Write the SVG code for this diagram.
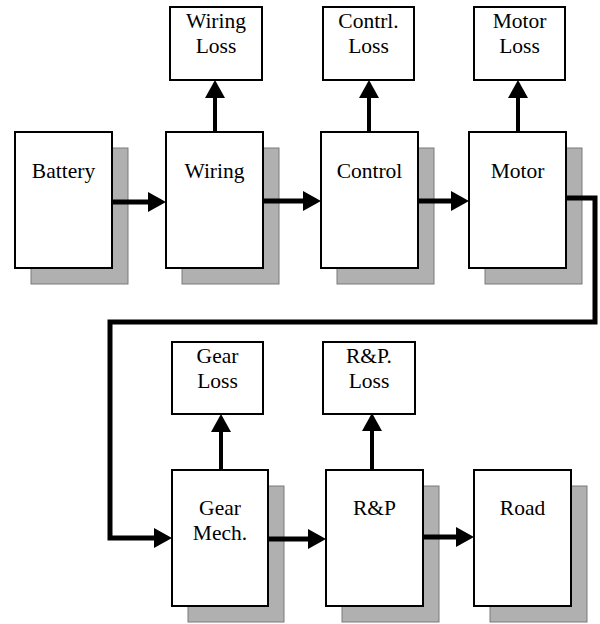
<svg xmlns="http://www.w3.org/2000/svg" width="600" height="624" viewBox="0 0 600 624">
<style>
.bg{fill:#ffffff}
.box{fill:#ffffff;stroke:#000;stroke-width:2}
.sh{fill:#b0b0b0;stroke:#7a7a7a;stroke-width:1}
.t{font-family:"Liberation Serif","Times New Roman",serif;font-size:21.5px;fill:#000;text-anchor:middle}
.c{fill:none;stroke:#000;stroke-width:5;stroke-linejoin:miter}
.v{fill:none;stroke:#000;stroke-width:4}
</style>
<defs>
<marker id="ah" markerUnits="userSpaceOnUse" markerWidth="18" markerHeight="20" refX="0" refY="10" orient="auto" overflow="visible">
<path d="M0,0 L18,10 L0,20 Z" fill="#000"/>
</marker>
</defs>
<rect class="bg" x="0" y="0" width="600" height="624"/>

<g id="battery">
<rect class="sh" x="31" y="148" width="97" height="136"/>
<rect class="box" x="15" y="132" width="97" height="136"/>
<text class="t" x="63.5" y="178">Battery</text>
</g>
<g id="wiring">
<rect class="sh" x="182" y="148" width="97" height="136"/>
<rect class="box" x="166" y="132" width="97" height="136"/>
<text class="t" x="214.5" y="178">Wiring</text>
</g>
<g id="control">
<rect class="sh" x="337" y="148" width="97" height="136"/>
<rect class="box" x="321" y="132" width="97" height="136"/>
<text class="t" x="369.5" y="178">Control</text>
</g>
<g id="motor">
<rect class="sh" x="485" y="148" width="97" height="136"/>
<rect class="box" x="469" y="132" width="97" height="136"/>
<text class="t" x="517.5" y="178">Motor</text>
</g>

<g id="wiring-loss">
<rect class="box" x="170" y="7" width="92" height="73"/>
<text class="t" x="216" y="28">Wiring</text>
<text class="t" x="216" y="53">Loss</text>
</g>
<g id="control-loss">
<rect class="box" x="323" y="7" width="91" height="73"/>
<text class="t" x="368.5" y="28">Contrl.</text>
<text class="t" x="368.5" y="53">Loss</text>
</g>
<g id="motor-loss">
<rect class="box" x="474" y="7" width="91" height="73"/>
<text class="t" x="519.5" y="28">Motor</text>
<text class="t" x="519.5" y="53">Loss</text>
</g>

<g id="gear">
<rect class="sh" x="188" y="486" width="96" height="136"/>
<rect class="box" x="172" y="470" width="96" height="136"/>
<text class="t" x="220" y="515">Gear</text>
<text class="t" x="220" y="540">Mech.</text>
</g>
<g id="rp">
<rect class="sh" x="342" y="486" width="97" height="136"/>
<rect class="box" x="326" y="470" width="97" height="136"/>
<text class="t" x="374.5" y="515">R&amp;P</text>
</g>
<g id="road">
<rect class="sh" x="490" y="486" width="97" height="136"/>
<rect class="box" x="474" y="470" width="97" height="136"/>
<text class="t" x="522.5" y="515">Road</text>
</g>

<g id="gear-loss">
<rect class="box" x="172" y="342" width="91" height="72"/>
<text class="t" x="217.5" y="363">Gear</text>
<text class="t" x="217.5" y="388">Loss</text>
</g>
<g id="rp-loss">
<rect class="box" x="323" y="342" width="92" height="72"/>
<text class="t" x="369" y="363">R&amp;P.</text>
<text class="t" x="369" y="388">Loss</text>
</g>

<g id="connectors">
<path class="c" d="M112,202 H148" marker-end="url(#ah)"/>
<path class="c" d="M263,201 H303" marker-end="url(#ah)"/>
<path class="c" d="M418,201 H451" marker-end="url(#ah)"/>
<path class="c" d="M566,198 H595 V322 H110 V538 H154" marker-end="url(#ah)"/>
<path class="c" d="M268,539 H308" marker-end="url(#ah)"/>
<path class="c" d="M423,537 H456" marker-end="url(#ah)"/>
<path class="v" d="M215,132 V98" marker-end="url(#ah)"/>
<path class="v" d="M369,132 V98" marker-end="url(#ah)"/>
<path class="v" d="M518,132 V98" marker-end="url(#ah)"/>
<path class="v" d="M221,470 V432" marker-end="url(#ah)"/>
<path class="v" d="M372,470 V431" marker-end="url(#ah)"/>
</g>
</svg>
